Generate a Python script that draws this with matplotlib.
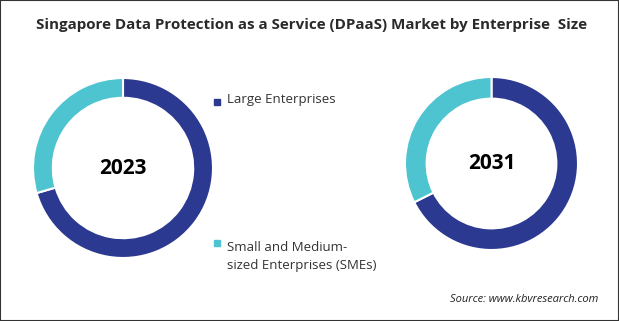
import matplotlib.pyplot as plt
from matplotlib.patches import Rectangle

# Market share by enterprise size (%)
segments = ['Large Enterprises', 'Small and Medium-\nsized Enterprises (SMEs)']
share_2023 = [70.5, 29.5]
share_2031 = [67.6, 32.4]
years = ['2023', '2031']

navy = '#2B3990'
teal = '#4DC4CF'
colors = [navy, teal]

W, H = 619, 321
fig = plt.figure(figsize=(W / 100, H / 100), dpi=100)
plt.rcParams['font.family'] = ['Open Sans', 'DejaVu Sans']


def donut(cx, cy, r, ring, values, label):
    # axes placed in pixel units so the ring lands where wanted
    ax = fig.add_axes([(cx - r) / W, (H - cy - r) / H, 2 * r / W, 2 * r / H])
    ax.pie(values, colors=colors, startangle=90, counterclock=False,
           radius=1, wedgeprops=dict(width=ring, edgecolor='white', linewidth=1.5))
    ax.set_xlim(-1, 1)
    ax.set_ylim(-1, 1)
    ax.set_aspect('equal')
    ax.axis('off')
    ax.text(0, 0, label, ha='center', va='center', fontsize=15,
            fontweight='bold', color='black')


donut(123, 168, 90, 0.22, share_2023, years[0])
donut(491.5, 163.5, 86.5, 0.25, share_2031, years[1])

fig.text(312 / W, 1 - 25 / H, 'Singapore Data Protection as a Service (DPaaS) Market by Enterprise  Size',
         ha='center', va='center', fontsize=10.9, fontweight='bold', color='#2a2a2a')

# legend
leg_y = [102, 243]
for c, txt, y in zip(colors, segments, leg_y):
    fig.patches.append(Rectangle(((214) / W, (H - y - 3) / H), 6 / W, 6 / H,
                                 transform=fig.transFigure, color=c))
    fig.text(227 / W, 1 - (y - 2) / H, txt, ha='left', va='top' if '\n' in txt else 'center',
             fontsize=9.5, color='#333333', linespacing=1.45)

fig.text(598 / W, 1 - 299 / H, 'Source: www.kbvresearch.com', ha='right', va='center',
         fontsize=8, style='italic', color='#222222')

fig.patches.append(Rectangle((0, 0), 1, 1, transform=fig.transFigure, fill=False,
                             edgecolor='#333333', linewidth=1.5))

fig.savefig('out.png', dpi=100)
